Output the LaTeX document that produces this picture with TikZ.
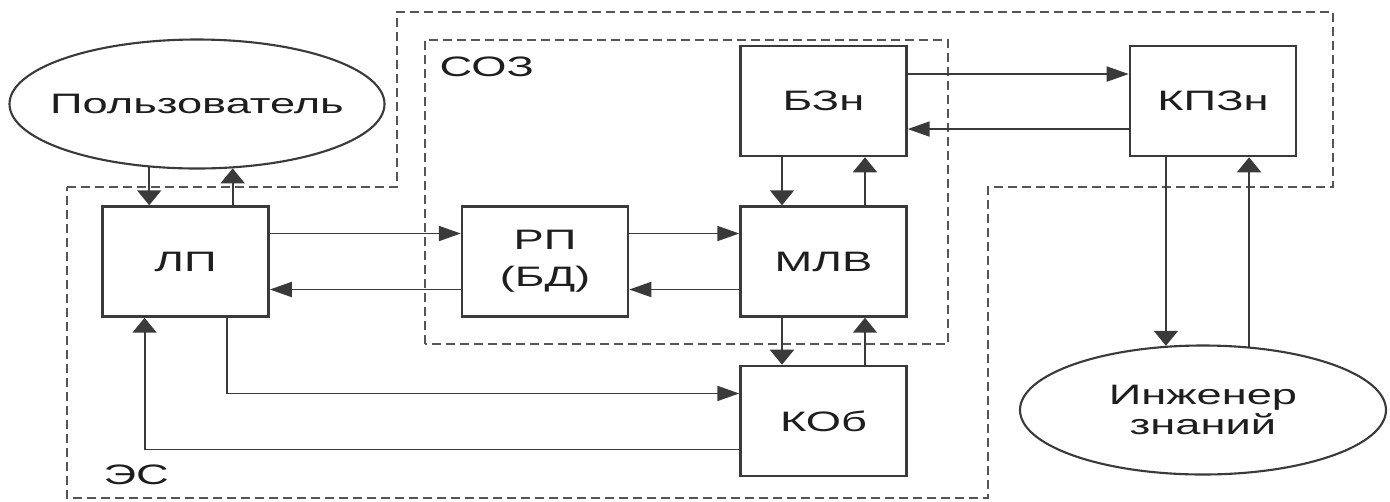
\documentclass[tikz,border=0pt]{standalone}
\usepackage{fontspec}
\setmainfont[FakeStretch=1.61]{Liberation Sans}
\usetikzlibrary{arrows.meta,positioning,shapes.geometric}
\definecolor{ink}{HTML}{1E1E1E}
\definecolor{ink2}{HTML}{3A3A3A}
\definecolor{framegray}{HTML}{555555}

\begin{document}
\begin{tikzpicture}[
  font=\fontsize{8}{8.5}\selectfont,
  box/.style={draw=ink2, line width=0.7pt, fill=white, minimum width=16.6mm, minimum height=11mm, inner sep=0pt, text=ink, align=center},
  actor/.style={ellipse, draw=ink2, line width=0.6pt, fill=white, inner ysep=0pt, inner xsep=-2mm, text=ink, align=center, minimum height=12.9mm},
  frame/.style={draw=framegray, line width=0.8pt, dash pattern=on 0.9mm off 0.5mm},
  harr/.style={-{Triangle[length=2.2mm, width=1.5mm]}, line width=0.55pt, draw=ink2},
  varr/.style={-{Triangle[length=1.5mm, width=2.4mm]}, line width=0.55pt, draw=ink2},
  lab/.style={anchor=west, inner sep=0pt, text=ink}
]
\useasboundingbox (0,0) rectangle (13.9,5.01);
% ---------------- frames
\draw[frame] (0.67,3.14) -- (3.97,3.14) -- (3.97,4.89) -- (13.33,4.89) -- (13.33,3.14) -- (9.88,3.14) -- (9.88,0.03) -- (0.67,0.03) -- cycle;
\draw[frame] (4.25,1.57) rectangle (9.48,4.61);
\node[lab] (soz) at (4.39,4.34) {СОЗ};
\node[lab] (es) at (1.03,0.26) {ЭС};
% ---------------- blocks
\node[box] (mlv) at (8.235,2.395) {МЛВ};
\node[box, above=4.8mm of mlv] (bzn) {БЗн};
\node[box, below=4.7mm of mlv] (kob) {КОб};
\node[box, left=11mm of mlv] (rp) {РП\\[2pt](БД)};
\node[box, left=19.1mm of rp] (lp) {ЛП};
\node[box, right=22.1mm of bzn] (kpzn) {КПЗн};
% ---------------- actors
\node[actor, minimum width=37.5mm] (user) at (1.97,3.97) {Пользователь};
\node[actor, minimum width=36.6mm] (eng) at (12.03,0.91) {Инженер\\знаний};
% ---------------- arrows
\draw[varr] (user.-127) -- (user.-127 |- lp.north);
\draw[varr] (user.-61 |- lp.north) -- (user.-61);
\draw[harr] ([yshift=2.8mm]lp.east) -- ([yshift=2.8mm]rp.west);
\draw[harr] ([yshift=-2.8mm]rp.west) -- ([yshift=-2.8mm]lp.east);
\draw[harr] ([yshift=2.8mm]rp.east) -- ([yshift=2.8mm]mlv.west);
\draw[harr] ([yshift=-2.8mm]mlv.west) -- ([yshift=-2.8mm]rp.east);
\draw[varr] ([xshift=-4.15mm]bzn.south) -- ([xshift=-4.15mm]mlv.north);
\draw[varr] ([xshift=4.15mm]mlv.north) -- ([xshift=4.15mm]bzn.south);
\draw[varr] ([xshift=-4.15mm]mlv.south) -- ([xshift=-4.15mm]kob.north);
\draw[varr] ([xshift=4.15mm]kob.north) -- ([xshift=4.15mm]mlv.south);
\draw[harr] ([yshift=2.7mm]bzn.east) -- ([yshift=2.7mm]kpzn.west);
\draw[harr] ([yshift=-2.8mm]kpzn.west) -- ([yshift=-2.8mm]bzn.east);
\draw[varr] (eng.120 |- kpzn.south) -- (eng.120);
\draw[varr] (eng.54) -- (eng.54 |- kpzn.south);
\draw[harr] ([xshift=4.1mm]lp.south) |- ([yshift=2.75mm]kob.west);
\draw[varr] ([yshift=-2.85mm]kob.west) -| ([xshift=-4.1mm]lp.south);
\end{tikzpicture}
\end{document}
